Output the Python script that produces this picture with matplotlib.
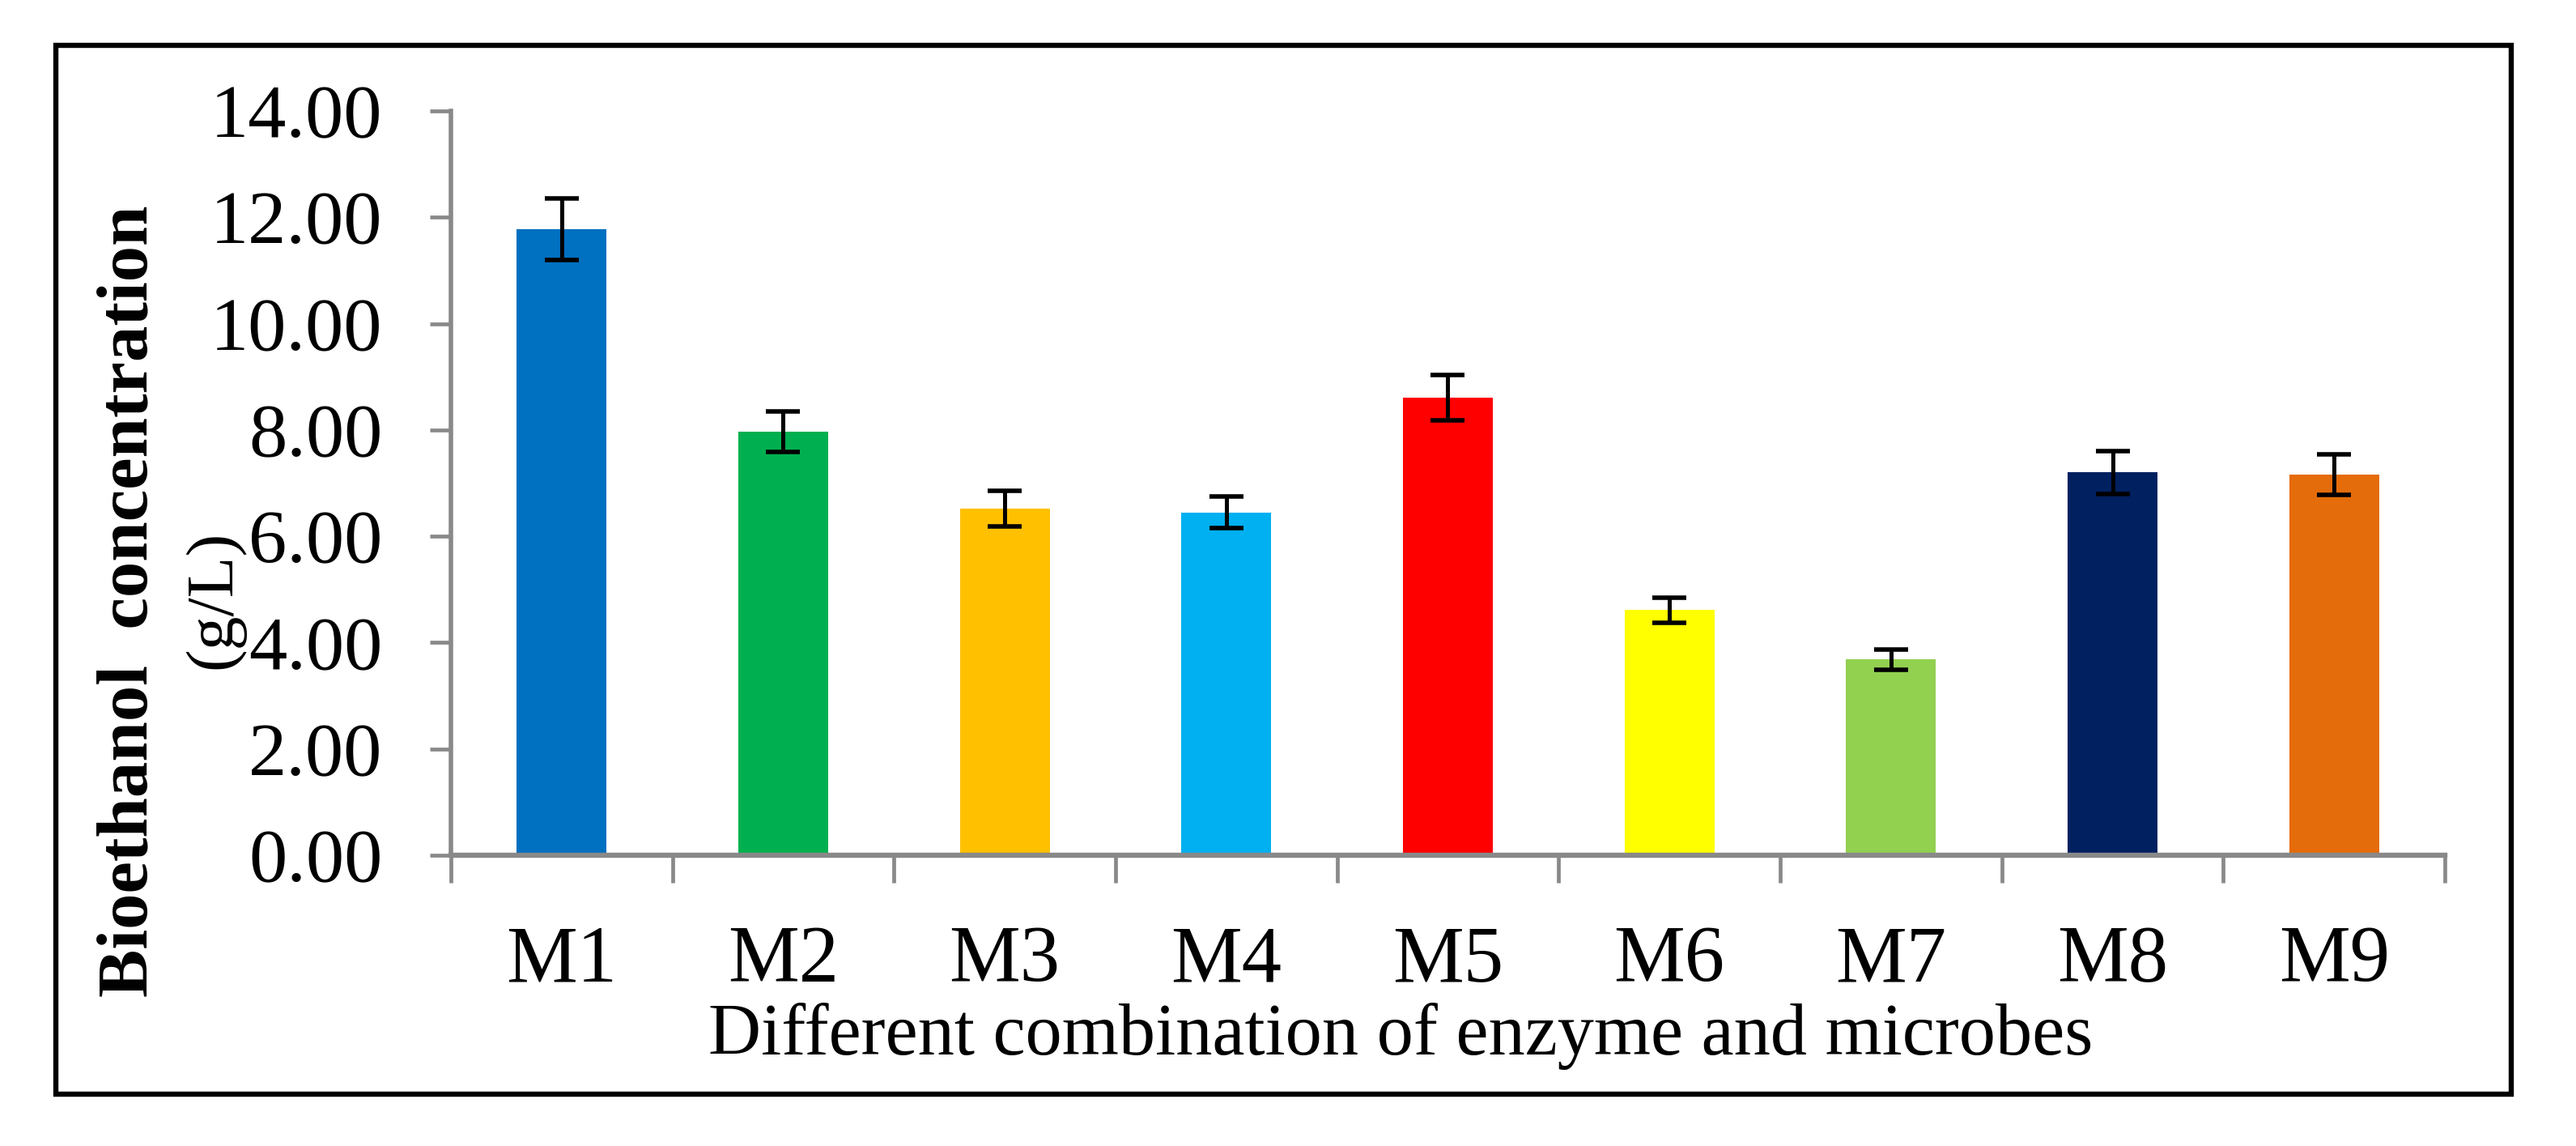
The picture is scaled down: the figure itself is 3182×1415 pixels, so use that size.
import matplotlib
matplotlib.use("Agg")
import matplotlib.pyplot as plt
from matplotlib.patches import Rectangle
from matplotlib.ticker import FixedLocator, FormatStrFormatter

# ---- data ----
categories = ["M1", "M2", "M3", "M4", "M5", "M6", "M7", "M8", "M9"]
values = [11.77, 7.97, 6.52, 6.45, 8.61, 4.61, 3.68, 7.20, 7.16]
errors = [0.58, 0.38, 0.34, 0.30, 0.43, 0.24, 0.19, 0.40, 0.38]
colors = ["#0070C0", "#00B050", "#FFC000", "#00B0F0", "#FF0000",
          "#FFFF00", "#92D050", "#002060", "#E46C0A"]
y_ticks = [0, 2, 4, 6, 8, 10, 12, 14]

W, H = 3182, 1415
DPI = 100
fig = plt.figure(figsize=(W / DPI, H / DPI), dpi=DPI)
plt.rcParams['font.family'] = ['Liberation Serif', 'DejaVu Serif']

def fx(px):
    return px / W

def fy(py):
    return 1 - py / H

ax = fig.add_axes([fx(557), fy(1056), fx(3020) - fx(557), fy(137) - fy(1056)])

x = list(range(len(categories)))
ax.bar(x, values, width=0.405, color=colors, zorder=2)
ax.errorbar(x, values, yerr=errors, fmt='none', ecolor='black',
            elinewidth=3.6, capsize=15, capthick=4, zorder=3)

gray = "#898989"
ax.set_xlim(-0.5, len(categories) - 0.5)
ax.set_ylim(0, 14)
for s in ["top", "right"]:
    ax.spines[s].set_visible(False)
ax.spines["left"].set_color(gray)
ax.spines["left"].set_linewidth(4)
ax.spines["bottom"].set_color(gray)
ax.spines["bottom"].set_linewidth(4.6)

ax.set_yticks(y_ticks)
ax.yaxis.set_major_formatter(FormatStrFormatter("%.2f"))
ax.tick_params(axis='y', direction='out', length=18.7, width=3.4, color=gray,
               pad=42, labelsize=68)

ax.set_xticks(x)
ax.set_xticklabels(categories)
ax.xaxis.set_minor_locator(FixedLocator([i - 0.5 for i in range(len(categories) + 1)]))
ax.tick_params(axis='x', which='major', length=0, pad=62, labelsize=71)
ax.tick_params(axis='x', which='minor', direction='out', length=24.5, width=3.4, color=gray)

# axis titles
fig.text(fx(1730), fy(1302), "Different combination of enzyme and microbes",
         ha='center', va='baseline', fontsize=65)
fig.text(fx(160), fy(742), "Bioethanol  concentration", rotation=90,
         ha='center', va='center', fontsize=64, fontweight='bold')
fig.text(fx(265), fy(740), "(g/L)", rotation=90,
         ha='center', va='center', fontsize=60)

# outer frame
frame = Rectangle((fx(69), fy(1351)), fx(3102) - fx(69), fy(56) - fy(1351),
                  transform=fig.transFigure, fill=False, edgecolor='black',
                  linewidth=4.6, zorder=10)
fig.patches.append(frame)

fig.savefig("out.png", dpi=DPI, facecolor='white')
